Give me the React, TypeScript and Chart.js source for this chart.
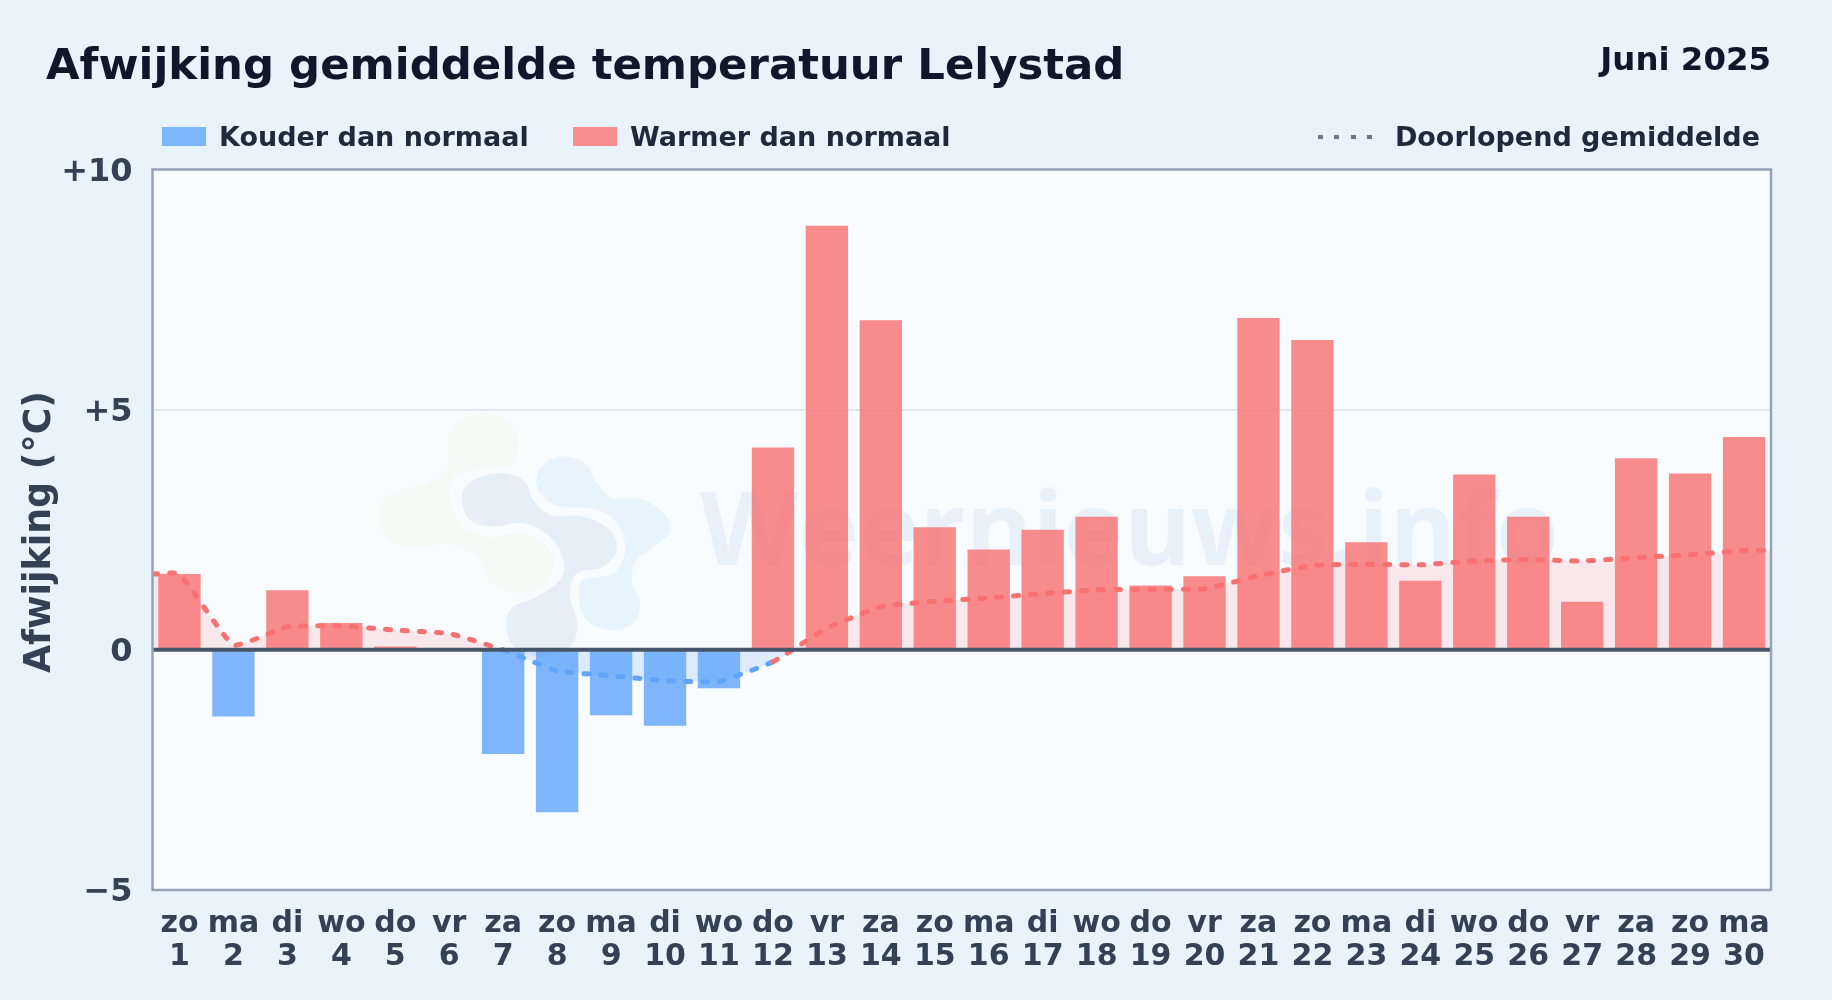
import React, { useEffect, useRef } from "react";
import { Chart, registerables } from "chart.js";

Chart.register(...registerables);

const weekdays = ["zo","ma","di","wo","do","vr","za","zo","ma","di","wo","do","vr","za","zo","ma","di","wo","do","vr","za","zo","ma","di","wo","do","vr","za","zo","ma"];
const days = [1,2,3,4,5,6,7,8,9,10,11,12,13,14,15,16,17,18,19,20,21,22,23,24,25,26,27,28,29,30];
const deviations = [1.58,-1.39,1.24,0.56,0.07,0,-2.17,-3.38,-1.36,-1.58,-0.8,4.21,8.83,6.86,2.55,2.09,2.5,2.77,1.34,1.53,6.91,6.45,2.24,1.44,3.65,2.77,1.0,3.99,3.67,4.43];
const runningMean = [1.58,0.1,0.48,0.5,0.41,0.34,0,-0.44,-0.54,-0.64,-0.66,-0.25,0.45,0.9,1.01,1.08,1.17,1.25,1.26,1.27,1.54,1.76,1.78,1.77,1.85,1.88,1.85,1.92,1.98,2.07];
const yTicks: Record<string, string> = { "10": "+10", "5": "+5", "0": "0", "-5": "−5" };

const FONT = "'DejaVu Sans', sans-serif";
const RED = "rgba(248,113,113,0.8)";
const BLUE = "rgba(96,165,250,0.8)";

const green = [[295,130],[340,85],[400,70],[470,90],[502,150],[480,225],[380,240],[310,265],[300,330],[340,410],[420,440],[510,430],[590,470],[610,530],[570,590],[490,610],[420,570],[380,500],[300,462],[190,475],[100,430],[90,350],[130,310],[250,270],[295,230]];
const middle = [[335,320],[370,270],[450,250],[520,270],[550,330],[600,375],[700,380],[780,420],[800,480],[760,530],[680,550],[660,620],[682,700],[660,770],[570,800],[490,770],[468,700],[490,650],[560,620],[630,570],[640,510],[600,440],[520,400],[430,410],[360,390]];
const blue = [[560,260],[590,215],[650,200],[710,225],[740,280],[790,325],[880,330],[950,380],[958,430],[910,470],[860,510],[845,570],[870,640],[850,700],[780,722],[710,690],[685,620],[700,570],[790,550],[825,480],[800,400],[730,355],[630,350],[570,310]];

function blob(ctx: CanvasRenderingContext2D, pts: number[][], color: string) {
  const P = pts.map(([x, y]) => [350 + x / 3, 390 + y / 3]);
  const n = P.length;
  ctx.beginPath();
  ctx.moveTo(P[0][0], P[0][1]);
  for (let i = 0; i < n; i++) {
    const p0 = P[(i - 1 + n) % n], p1 = P[i], p2 = P[(i + 1) % n], p3 = P[(i + 2) % n];
    ctx.bezierCurveTo(p1[0] + (p2[0] - p0[0]) / 6, p1[1] + (p2[1] - p0[1]) / 6, p2[0] - (p3[0] - p1[0]) / 6, p2[1] - (p3[1] - p1[1]) / 6, p2[0], p2[1]);
  }
  ctx.closePath();
  ctx.fillStyle = color;
  ctx.fill();
}

const framePlugin = {
  id: "frame",
  afterLayout(chart: any) {
    chart.scales.y.bottom += 4.6;
  },
  beforeDatasetsDraw(chart: any) {
    const { ctx } = chart;
    ctx.save();
    blob(ctx, green, "#f4faf6");
    blob(ctx, middle, "#e6eff8");
    blob(ctx, blue, "#e8f4fd");
    ctx.font = `bold 102px 'Open Sans', ${FONT}`;
    ctx.fillStyle = "#e8f1fa";
    ctx.textBaseline = "alphabetic";
    ctx.textAlign = "left";
    ctx.fillText("Weernieuws.info", 700, 565);
    ctx.restore();
  },
  afterDatasetsDraw(chart: any) {
    const { ctx, chartArea: a, scales } = chart;
    const y0 = scales.y.getPixelForValue(0);
    ctx.save();
    ctx.strokeStyle = "#475569";
    ctx.lineWidth = 4;
    ctx.beginPath();
    ctx.moveTo(a.left, y0);
    ctx.lineTo(a.right, y0);
    ctx.stroke();
    ctx.strokeStyle = "#94a3b8";
    ctx.lineWidth = 2.5;
    ctx.strokeRect(a.left, a.top, a.right - a.left, a.bottom - a.top);
    ctx.restore();
  },
};

const plotBg = {
  id: "plotBg",
  beforeDraw(chart: any) {
    const { ctx, chartArea: a } = chart;
    ctx.save();
    ctx.fillStyle = "#f8fbff";
    ctx.fillRect(a.left, a.top, a.right - a.left, a.bottom - a.top);
    ctx.restore();
  },
};

function LegendText({ left, right, children }: any) {
  return (
    <div style={{ position: "absolute", left, right, top: 119, height: 36, font: `bold 27px/36px ${FONT}`, color: "#1e293b", whiteSpace: "nowrap" }}>{children}</div>
  );
}
function Swatch({ left, color }: any) {
  return <div style={{ position: "absolute", left, top: 127, width: 43.5, height: 19, background: color }} />;
}

export default function App() {
  const ref = useRef<HTMLCanvasElement | null>(null);
  useEffect(() => {
    document.body.style.margin = "0";
    const lineData = [
      { x: 0.5, y: runningMean[0] },
      ...days.map((d, i) => ({ x: d, y: runningMean[i] })),
      { x: 30.5, y: runningMean[runningMean.length - 1] },
    ];
    const chart = new Chart(ref.current as HTMLCanvasElement, {
      type: "bar",
      data: {
        datasets: [
          {
            type: "line",
            label: "Doorlopend gemiddelde",
            data: lineData as any,
            borderColor: "#f87171",
            borderWidth: 5,
            borderDash: [5, 12],
            borderCapStyle: "round",
            pointRadius: 0,
            tension: 0.12,
            fill: { target: "origin", above: "rgba(248,113,113,0.14)", below: "rgba(96,165,250,0.18)" },
            segment: { borderColor: (c: any) => (c.p1.parsed.y >= 0 ? "#f87171" : "#60a5fa") },
            order: 0,
          } as any,
          {
            type: "bar",
            label: "Afwijking",
            data: days.map((d, i) => ({ x: d, y: deviations[i] })) as any,
            backgroundColor: deviations.map((v) => (v < 0 ? BLUE : RED)),
            barPercentage: 0.785,
            categoryPercentage: 1,
            order: 1,
          } as any,
        ],
      },
      options: {
        responsive: false,
        animation: false,
        devicePixelRatio: 1,
        layout: { padding: { top: 169.5, right: 61, left: 0, bottom: 0 } },
        plugins: { legend: { display: false }, tooltip: { enabled: false }, title: { display: false } },
        scales: {
          x: {
            type: "linear",
            min: 0.5,
            max: 30.5,
            offset: false,
            afterBuildTicks: (s: any) => { s.ticks = days.map((value) => ({ value })); },
            grid: { display: false },
            border: { display: false },
            ticks: {
              autoSkip: false, maxRotation: 0, minRotation: 0, padding: 10, color: "#334155",
              font: { family: FONT, weight: "bold", size: 30, lineHeight: 1.1 },
              callback: (v: any) => [weekdays[v - 1], String(v)],
            },
            afterFit: (s: any) => { s.height = 110; s.paddingLeft = 0; s.paddingRight = 0; },
          },
          y: {
            min: -5,
            max: 10,
            afterBuildTicks: (s: any) => { s.ticks = [-5, 0, 5, 10].map((value) => ({ value })); },
            grid: { drawTicks: false, color: (c: any) => (c.tick.value === 5 ? "#e2e8f0" : "transparent"), lineWidth: 2 },
            border: { display: false },
            ticks: { padding: 20, labelOffset: 3, color: "#334155", font: { family: FONT, weight: "bold", size: 32 }, callback: (v: any) => yTicks[String(v)] },
            title: { display: true, text: "Afwijking (°C)", color: "#334155", padding: { top: 18.5, bottom: 0 }, font: { family: FONT, weight: "bold", size: 36.4 } },
            afterFit: (s: any) => { s.width = 152.5; },
          },
        },
      } as any,
      plugins: [plotBg, framePlugin],
    });
    return () => chart.destroy();
  }, []);

  return (
    <div style={{ position: "fixed", left: 0, top: 0, width: 1832, height: 1000, overflow: "hidden", background: "linear-gradient(135deg,#e8f3fc,#eaf3fc)", fontFamily: FONT }}>
      <canvas ref={ref} width={1832} height={1000} style={{ position: "absolute", left: 0, top: 0, display: "block", width: 1832, height: 1000 }} />
      <div style={{ position: "absolute", left: 46, top: 37, font: `bold 43.4px/54px ${FONT}`, color: "#0f172a", whiteSpace: "nowrap" }}>Afwijking gemiddelde temperatuur Lelystad</div>
      <div style={{ position: "absolute", right: 61, top: 39, font: `bold 32.4px/40px ${FONT}`, color: "#0f172a", whiteSpace: "nowrap" }}>Juni 2025</div>
      <Swatch left={162} color="#7eb6fb" />
      <LegendText left={219}>Kouder dan normaal</LegendText>
      <Swatch left={573} color="#f88d8d" />
      <LegendText left={630}>Warmer dan normaal</LegendText>
      <div style={{ position: "absolute", left: 1318, top: 135, width: 56, height: 4, backgroundImage: "repeating-linear-gradient(90deg,#6b7686 0 5px,transparent 5px 16.5px)" }} />
      <LegendText right={72}>Doorlopend gemiddelde</LegendText>
    </div>
  );
}
